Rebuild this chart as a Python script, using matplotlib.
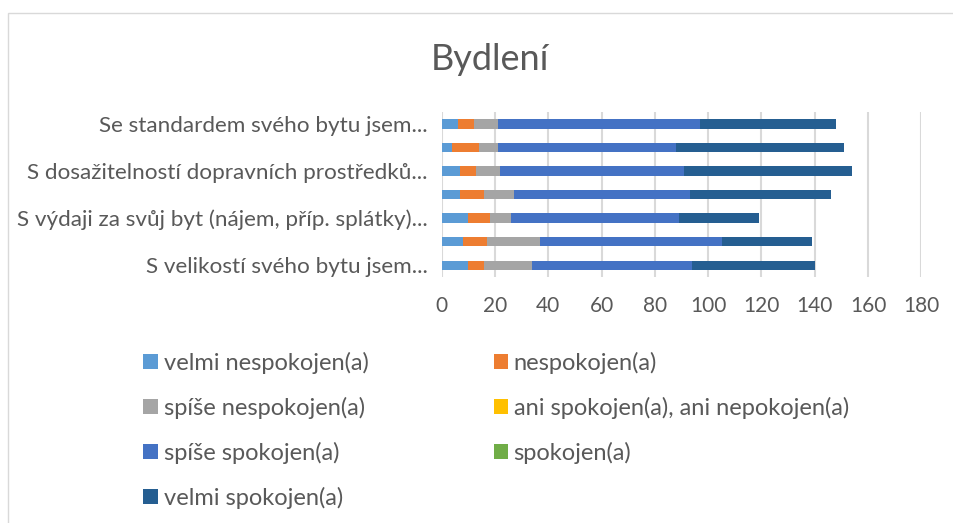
import matplotlib.pyplot as plt
from matplotlib.patches import Rectangle
import numpy as np

plt.rcParams['font.family'] = ['Lato', 'DejaVu Sans']

# kategorie odshora dolů v grafu jsou obráceně (první je dole)
categories = ['S velikostí svého bytu jsem...',
              '',
              'S výdaji za svůj byt (nájem, příp. splátky)...',
              '',
              'S dosažitelností dopravních prostředků...',
              '',
              'Se standardem svého bytu jsem...']

series_names = ['velmi nespokojen(a)', 'nespokojen(a)', 'spíše nespokojen(a)',
                'ani spokojen(a), ani nepokojen(a)', 'spíše spokojen(a)',
                'spokojen(a)', 'velmi spokojen(a)']

velmi_nespokojen = [10, 8, 10, 7, 7, 4, 6]
nespokojen = [6, 9, 8, 9, 6, 10, 6]
spise_nespokojen = [18, 20, 8, 11, 9, 7, 9]
ani_ani = [0, 0, 0, 0, 0, 0, 0]
spise_spokojen = [60, 68, 63, 66, 69, 67, 76]
spokojen = [0, 0, 0, 0, 0, 0, 0]
velmi_spokojen = [46, 34, 30, 53, 63, 63, 51]

colors = ['#5B9BD5', '#ED7D31', '#A5A5A5', '#FFC000', '#4472C4', '#70AD47', '#255E91']
text_color = '#595959'

values = [velmi_nespokojen, nespokojen, spise_nespokojen, ani_ani,
          spise_spokojen, spokojen, velmi_spokojen]

fig = plt.figure(figsize=(9.54, 5.23), dpi=100)

# rámeček grafu
fig.patches.append(Rectangle((8 / 954, -0.1), 1.2, (523 - 13) / 523 + 0.1,
                             transform=fig.transFigure, fill=False,
                             edgecolor='#D9D9D9', linewidth=1))

ax = fig.add_axes([441.7 / 954, 246 / 523, 479.7 / 954, 165 / 523])

y = np.arange(len(categories))
left = np.zeros(len(categories))
bars = []
for name, vals, col in zip(series_names, values, colors):
    b = ax.barh(y, vals, left=left, height=0.4, color=col, label=name, zorder=3)
    bars.append(b)
    left += np.array(vals)

ax.set_xlim(0, 180)
ax.set_ylim(-0.5, len(categories) - 0.5)
ax.set_xticks(range(0, 181, 20))
ax.set_yticks(y)
ax.set_yticklabels(categories)
ax.grid(axis='x', color='#D9D9D9', linewidth=1.5, zorder=0)
ax.tick_params(length=0, colors=text_color)
ax.tick_params(axis='x', pad=14, labelsize=15)
ax.tick_params(axis='y', pad=10, labelsize=16.2)
for s in ax.spines.values():
    s.set_visible(False)

fig.text(490 / 954, 1 - 59 / 523, 'Bydlení', ha='center', va='center',
         fontsize=26, color=text_color)

# legenda po řádcích jako v Excelu
order = [0, 2, 4, 6, 1, 3, 5]
handles = [bars[i] for i in order]
labels = [series_names[i] for i in order]
leg = fig.legend(handles, labels, ncol=2, loc='upper left',
                 bbox_to_anchor=(134 / 954, 1 - 342 / 523), frameon=False,
                 fontsize=17, labelcolor=text_color, handlelength=0.6,
                 handleheight=0.6, handletextpad=0.25, labelspacing=0.97,
                 columnspacing=5.3, borderaxespad=0)

fig.savefig('out.png', dpi=100)
